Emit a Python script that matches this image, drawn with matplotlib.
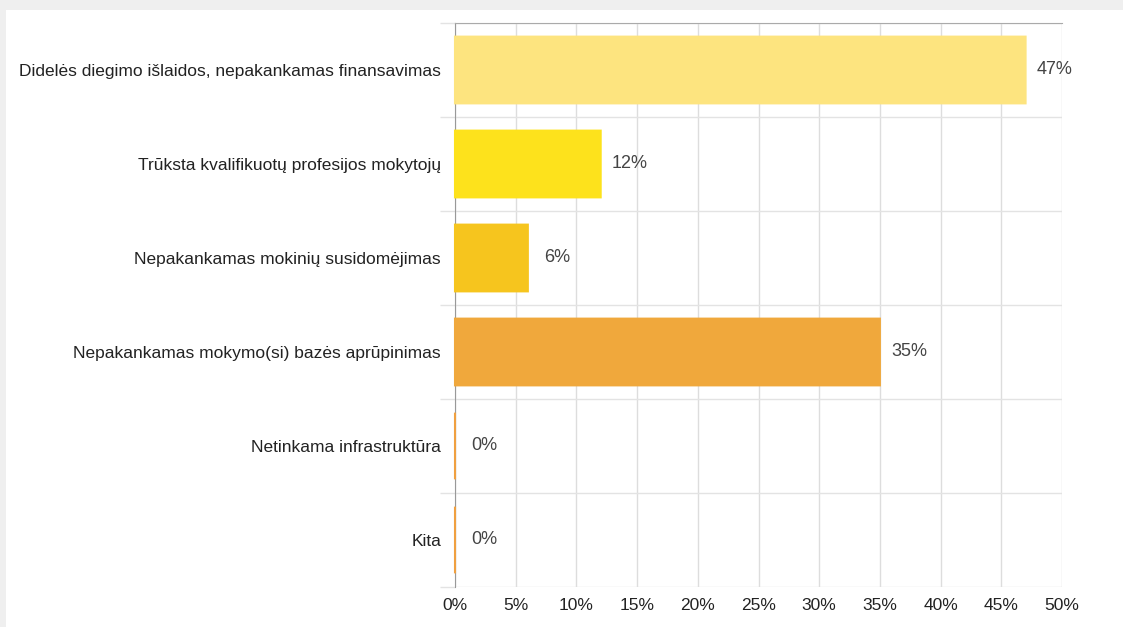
import matplotlib.pyplot as plt
from matplotlib.patches import Rectangle
from matplotlib.ticker import FuncFormatter, MultipleLocator

categories = [
    "Didelės diegimo išlaidos, nepakankamas finansavimas",
    "Trūksta kvalifikuotų profesijos mokytojų",
    "Nepakankamas mokinių susidomėjimas",
    "Nepakankamas mokymo(si) bazės aprūpinimas",
    "Netinkama infrastruktūra",
    "Kita",
]
values = [47, 12, 6, 35, 0, 0]
bar_colors = ["#fde47f", "#fde21c", "#f6c51e", "#f0a83c", "#f0a040", "#f0a040"]

plt.rcParams["font.family"] = ["Liberation Sans", "DejaVu Sans"]

W, H = 1123, 627
fig = plt.figure(figsize=(W / 100, H / 100), dpi=100)
fig.patch.set_facecolor("#efefef")
# white card area of the screenshot
fig.patches.append(Rectangle((6 / W, 0), 1, 1 - 10 / H, transform=fig.transFigure,
                             facecolor="white", edgecolor="none", zorder=-10))

ax = fig.add_axes([455 / W, 1 - 587 / H, (1062 - 455) / W, (587 - 23) / H])
ax.set_facecolor("white")

ypos = list(range(len(categories)))
# zero-valued bars still show as a thin orange line via their edge
bars = ax.barh(ypos, values, height=0.71, color=bar_colors, edgecolor=bar_colors,
               linewidth=1.5, zorder=3)
for b in bars:
    b.set_clip_on(False)
    b.set_snap(False)

for y, v in zip(ypos, values):
    ax.annotate(f"{v}%", xy=(v, y), xytext=(29 * 0.72, 0), textcoords="offset points",
                ha="center", va="center", fontsize=13, color="#444444", zorder=4)

ax.set_xlim(0, 50)
ax.set_ylim(len(categories) - 0.5, -0.5)
ax.xaxis.set_major_locator(MultipleLocator(5))
ax.xaxis.set_major_formatter(FuncFormatter(lambda x, _: f"{x:.0f}%"))
ax.grid(axis="x", color="#dddddd", linewidth=1, zorder=0)

ax.set_yticks(ypos)
ax.set_yticklabels(categories)
ax.set_yticks([i - 0.5 for i in range(len(categories) + 1)], minor=True)
ax.grid(axis="y", which="minor", color="#e3e3e3", linewidth=1, zorder=0)
ax.tick_params(axis="y", which="major", length=0, pad=10, labelsize=12.5, labelcolor="#222222")
ax.tick_params(axis="y", which="minor", length=10.8, color="#e3e3e3", width=1)
ax.tick_params(axis="x", length=0, pad=8, labelsize=12.5, labelcolor="#222222")

for side in ["right", "bottom"]:
    ax.spines[side].set_visible(False)
ax.spines["left"].set_color("#999999")
ax.spines["top"].set_color("#aaaaaa")
ax.spines["left"].set_zorder(2)

fig.savefig("out.png", dpi=100)
